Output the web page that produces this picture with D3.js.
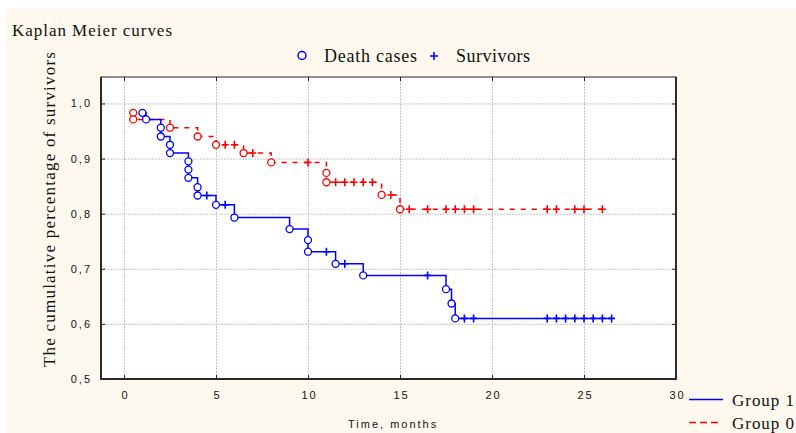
<!DOCTYPE html>
<html>
<head>
<meta charset="utf-8">
<script src="https://cdn.jsdelivr.net/npm/d3@7"></script>
<style>
body { margin: 0; background: #fff; }
svg { display: block; }
.tick text { font-family: "Liberation Sans", Arial, sans-serif; font-size: 11px; letter-spacing: 2px; fill: #111; }
.serif { font-family: "Liberation Serif", "Times New Roman", serif; fill: #111; }
</style>
</head>
<body>
<svg id="chart"></svg>
<script>
var width = 796
var height = 433

// group 1 (blue, solid) - time in months, survival, d = death, c = censored
var g1Times = [1.0, 1.2, 2.0, 2.0, 2.5, 2.5, 3.5, 3.5, 3.5, 4.0, 4.0, 4.5, 5.0, 5.5, 6.0, 9.0, 10.0, 10.0, 11.0, 11.5, 12.0, 13.0, 16.5, 17.5, 17.8, 18.0, 18.5, 19.0, 23.0, 23.5, 24.0, 24.5, 25.0, 25.5, 26.0, 26.5]
var g1Surv = [0.983, 0.971, 0.956, 0.940, 0.925, 0.910, 0.895, 0.880, 0.865, 0.848, 0.833, 0.833, 0.816, 0.816, 0.793, 0.772, 0.752, 0.731, 0.731, 0.709, 0.709, 0.688, 0.688, 0.663, 0.637, 0.610, 0.610, 0.610, 0.610, 0.610, 0.610, 0.610, 0.610, 0.610, 0.610, 0.610]
var g1Kind = ["d","d","d","d","d","d","d","d","d","d","d","c","d","c","d","d","d","d","c","d","c","d","c","d","d","d","c","c","c","c","c","c","c","c","c","c"]

// group 0 (red, dashed)
var g0Times = [0.5, 0.5, 2.5, 4.0, 5.0, 5.5, 6.0, 6.5, 7.0, 8.0, 10.0, 11.0, 11.0, 11.5, 12.0, 12.5, 13.0, 13.5, 14.0, 14.5, 15.0, 15.5, 16.5, 17.5, 18.0, 18.5, 19.0, 23.0, 23.5, 24.5, 25.0, 26.0]
var g0Surv = [0.983, 0.971, 0.956, 0.940, 0.925, 0.925, 0.925, 0.910, 0.910, 0.893, 0.893, 0.874, 0.857, 0.857, 0.857, 0.857, 0.857, 0.857, 0.834, 0.834, 0.808, 0.808, 0.808, 0.808, 0.808, 0.808, 0.808, 0.808, 0.808, 0.808, 0.808, 0.808]
var g0Kind = ["d","d","d","d","d","c","c","d","c","d","c","d","d","c","c","c","c","c","d","c","d","c","c","c","c","c","c","c","c","c","c","c"]

var xTicks = [0, 5, 10, 15, 20, 25, 30]
var yTicks = [0.5, 0.6, 0.7, 0.8, 0.9, 1.0]

var plotLeft = 101, plotRight = 676, plotTop = 77, plotBottom = 379

var svg = d3.select("#chart")
	.attr("width", width)
	.attr("height", height)

svg.append("rect")
	.attr("x", 6)
	.attr("y", 8)
	.attr("width", width - 6)
	.attr("height", height - 8)
	.attr("fill", "#fdf9ee")

var x = d3.scaleLinear().domain([-1.25, 30]).range([plotLeft, plotRight])
var y = d3.scaleLinear().domain([0.5, 1.048]).range([plotBottom, plotTop])

svg.append("rect")
	.attr("x", plotLeft)
	.attr("y", plotTop)
	.attr("width", plotRight - plotLeft)
	.attr("height", plotBottom - plotTop)
	.attr("fill", "#fff")

// grid
svg.append("g")
	.attr("class", "grid")
	.attr("transform", "translate(0," + plotBottom + ")")
	.call(d3.axisBottom(x).tickValues(xTicks.slice(0, -1)).tickSize(-(plotBottom - plotTop)).tickFormat(""))
	.call(function(g){ g.select(".domain").remove() })

svg.append("g")
	.attr("class", "grid")
	.attr("transform", "translate(" + plotLeft + ",0)")
	.call(d3.axisLeft(y).tickValues(yTicks.slice(1)).tickSize(-(plotRight - plotLeft)).tickFormat(""))
	.call(function(g){ g.select(".domain").remove() })

svg.selectAll(".grid line")
	.attr("stroke", "#c4c4c4")
	.attr("stroke-dasharray", "2,1")

// axes
var fmt = function(d){ return d3.format(".1f")(d).replace(".", ",") }

var axes = svg.append("g").attr("class", "axes")

axes.append("g")
	.attr("transform", "translate(0," + plotBottom + ")")
	.call(d3.axisBottom(x).tickValues(xTicks).tickSize(-4).tickPadding(12))
	.call(function(g){ g.select(".domain").remove() })
	.selectAll("text").attr("dx", "1")

axes.append("g")
	.attr("transform", "translate(0," + plotTop + ")")
	.call(d3.axisTop(x).tickValues(xTicks).tickSize(-4).tickFormat(""))
	.call(function(g){ g.select(".domain").remove() })

axes.append("g")
	.attr("transform", "translate(" + plotLeft + ",0)")
	.call(d3.axisLeft(y).tickValues(yTicks).tickSize(-4).tickPadding(9).tickFormat(fmt))
	.call(function(g){ g.select(".domain").remove() })

axes.append("g")
	.attr("transform", "translate(" + plotRight + ",0)")
	.call(d3.axisRight(y).tickValues(yTicks).tickSize(-4).tickFormat(""))
	.call(function(g){ g.select(".domain").remove() })

axes.selectAll(".tick line").attr("stroke", "#222")

// frame
svg.append("rect")
	.attr("x", plotLeft)
	.attr("y", plotTop)
	.attr("width", plotRight - plotLeft)
	.attr("height", plotBottom - plotTop)
	.attr("fill", "none")
	.attr("stroke", "#222")
	.attr("stroke-width", 1)

svg.append("path")
	.attr("d", "M" + plotLeft + "," + plotTop + "V" + plotBottom + "H" + plotRight + "V" + plotTop)
	.attr("fill", "none")
	.attr("stroke", "#2a2a2a")
	.attr("stroke-width", 2)

// curves
function drawGroup(times, surv, kind, color, dash) {
	var pts = times.map(function(t, i){ return {t: t, s: surv[i], k: kind[i]} })
	var d = "M" + x(pts[0].t) + "," + y(pts[0].s)
	for (var i = 1; i < pts.length; i++) {
		d += "H" + x(pts[i].t) + "V" + y(pts[i].s)
	}
	svg.append("path")
		.attr("d", d)
		.attr("fill", "none")
		.attr("stroke", color)
		.attr("stroke-width", 1.5)
		.attr("stroke-dasharray", dash)

	svg.selectAll(null)
		.data(pts.filter(function(p){ return p.k == "d" }))
		.join("circle")
		.attr("cx", function(p){ return x(p.t) })
		.attr("cy", function(p){ return y(p.s) })
		.attr("r", 3.5)
		.attr("fill", "#fff")
		.attr("stroke", color)
		.attr("stroke-width", 1.3)

	svg.selectAll(null)
		.data(pts.filter(function(p){ return p.k == "c" }))
		.join("path")
		.attr("d", function(p){
			var cx = x(p.t), cy = y(p.s)
			return "M" + (cx - 3.5) + "," + cy + "H" + (cx + 3.5) + "M" + cx + "," + (cy - 4) + "V" + (cy + 4)
		})
		.attr("stroke", color)
		.attr("stroke-width", 1.6)
}

drawGroup(g0Times, g0Surv, g0Kind, "#ff0000", "5,6")
drawGroup(g1Times, g1Surv, g1Kind, "#0000ff", null)

// texts
svg.append("text")
	.attr("class", "serif")
	.attr("x", 12)
	.attr("y", 36)
	.attr("font-size", 17)
	.attr("textLength", 160)
	.text("Kaplan Meier curves")

svg.append("text")
	.attr("class", "serif")
	.attr("transform", "translate(55,367) rotate(-90)")
	.attr("font-size", 17)
	.attr("textLength", 315)
	.text("The cumulative percentage of survivors")

svg.append("text")
	.attr("x", 348)
	.attr("y", 428)
	.attr("font-family", "Liberation Sans, Arial, sans-serif")
	.attr("font-size", 11)
	.attr("letter-spacing", "2px")
	.attr("fill", "#111")
	.text("Time, months")

// top legend
svg.append("circle")
	.attr("cx", 302)
	.attr("cy", 55.5)
	.attr("r", 4)
	.attr("fill", "none")
	.attr("stroke", "#0000ff")
	.attr("stroke-width", 1.5)

svg.append("text")
	.attr("class", "serif")
	.attr("x", 324)
	.attr("y", 62)
	.attr("font-size", 18)
	.attr("textLength", 93)
	.text("Death cases")

svg.append("path")
	.attr("d", "M430,56H438M434,52V60")
	.attr("stroke", "#0000ff")
	.attr("stroke-width", 1.6)

svg.append("text")
	.attr("class", "serif")
	.attr("x", 456)
	.attr("y", 62)
	.attr("font-size", 18)
	.attr("textLength", 74)
	.text("Survivors")

// bottom-right legend
svg.append("line")
	.attr("x1", 689).attr("x2", 723)
	.attr("y1", 399.5).attr("y2", 399.5)
	.attr("stroke", "#0000ff")
	.attr("stroke-width", 1.5)

svg.append("line")
	.attr("x1", 689).attr("x2", 718)
	.attr("y1", 422.5).attr("y2", 422.5)
	.attr("stroke", "#ff0000")
	.attr("stroke-width", 1.5)
	.attr("stroke-dasharray", "7,4")

svg.append("text")
	.attr("class", "serif")
	.attr("x", 732)
	.attr("y", 406)
	.attr("font-size", 17)
	.attr("textLength", 62)
	.text("Group 1")

svg.append("text")
	.attr("class", "serif")
	.attr("x", 732)
	.attr("y", 429)
	.attr("font-size", 17)
	.attr("textLength", 62)
	.text("Group 0")
</script>
</body>
</html>
